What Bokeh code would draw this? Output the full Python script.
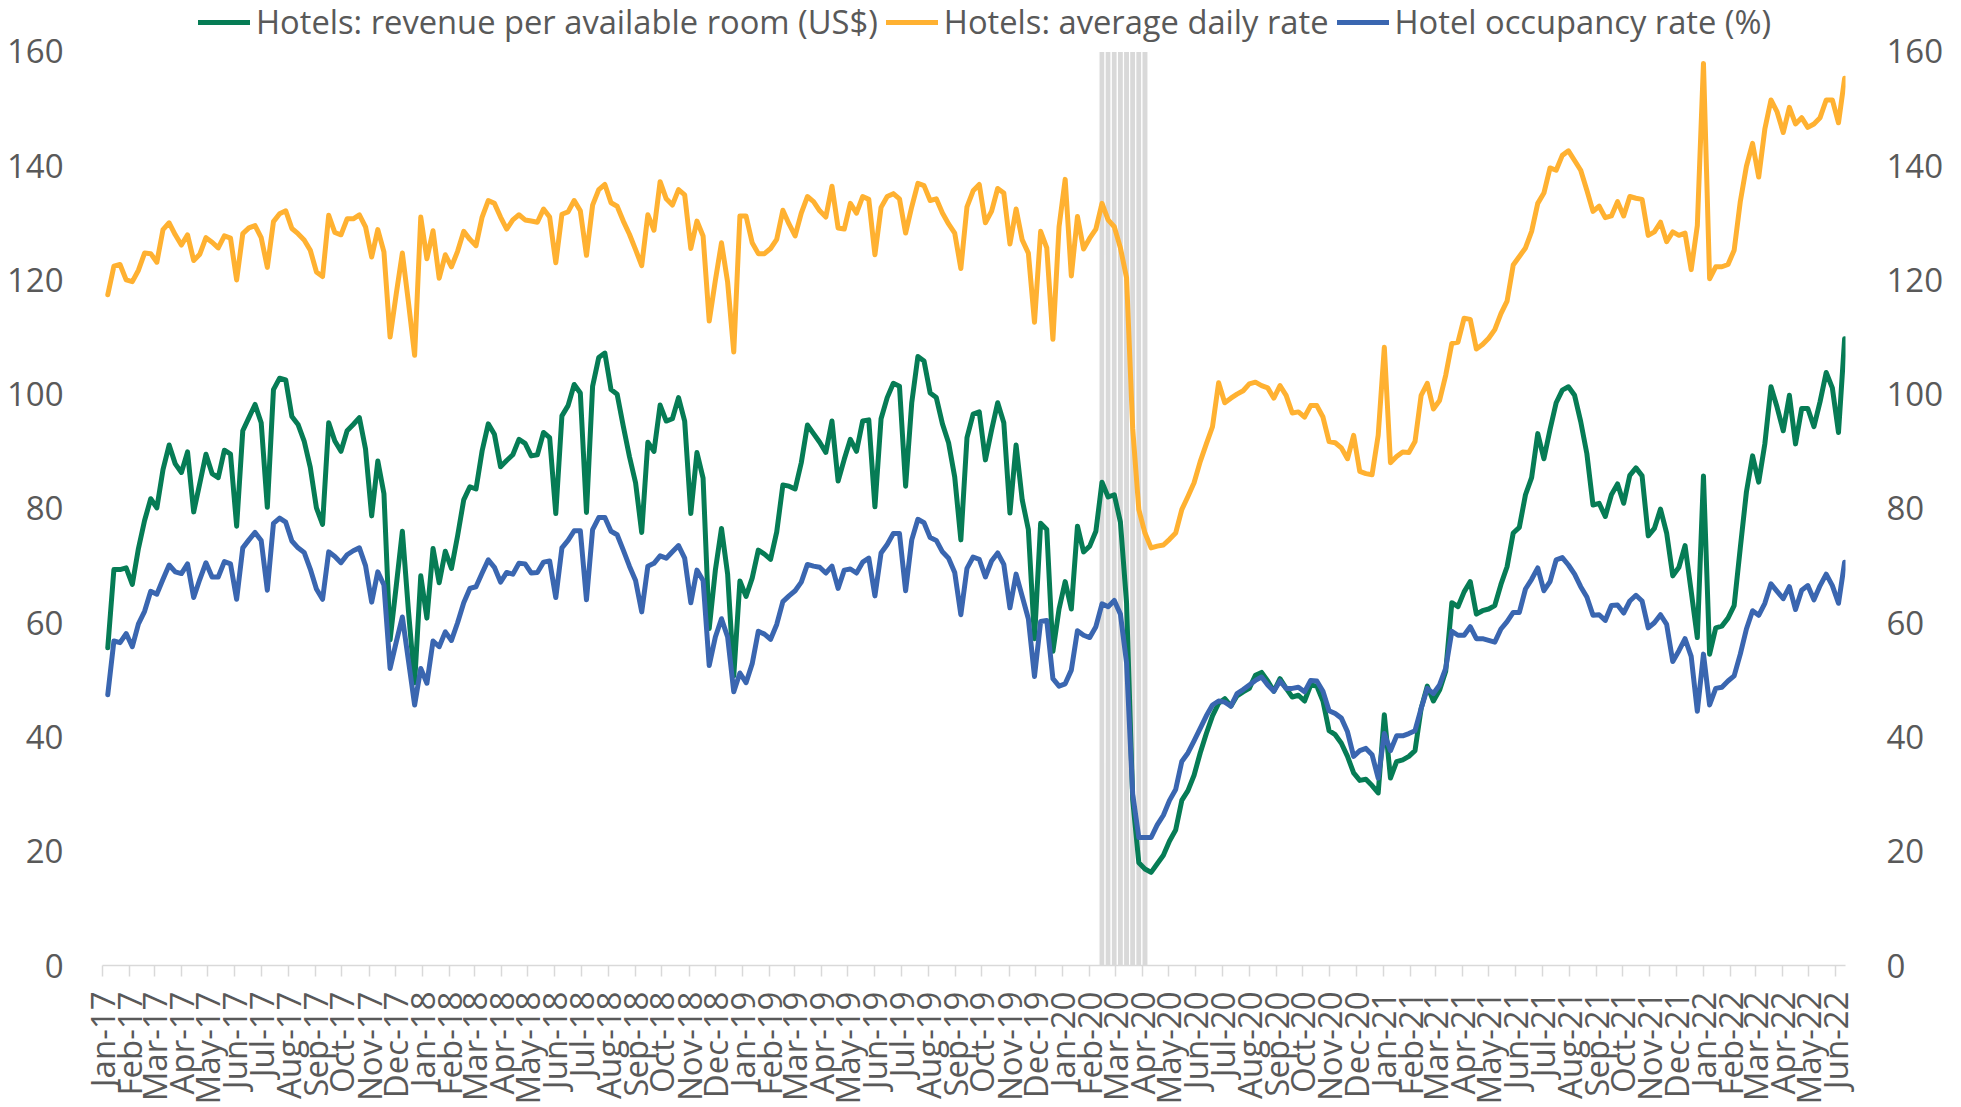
import datetime as dt
from bokeh.plotting import figure
from bokeh.models import (FixedTicker, LinearAxis, Range1d, Legend, LegendItem,
                          ColumnDataSource)
from bokeh.embed import file_html
from bokeh.resources import INLINE

# ---------------- data (weekly) ----------------
axis_start = dt.date(2017, 1, 1)
first_week = dt.date(2017, 1, 7)

adr = [
    117.4, 122.4, 122.7, 120.0, 119.7, 121.7, 124.7, 124.6, 123.1, 128.8,
    130.0, 127.9, 126.1, 127.9, 123.4, 124.5, 127.4, 126.6, 125.6, 127.7,
    127.3, 120.0, 128.1, 129.1, 129.5, 127.4, 122.2, 130.2, 131.6, 132.1,
    129.0, 128.1, 127.0, 125.2, 121.4, 120.6, 131.3, 128.3, 127.9, 130.7,
    130.7, 131.4, 129.3, 124.0, 128.8, 124.9, 110.0, 117.5, 124.7, 116.0,
    106.8, 131.0, 123.7, 128.6, 120.3, 124.4, 122.3, 125.0, 128.5, 127.1,
    126.0, 131.0, 133.9, 133.4, 131.0, 128.9, 130.5, 131.4, 130.5, 130.3,
    130.1, 132.4, 131.0, 123.0, 131.5, 131.9, 133.9, 132.1, 124.3, 133.1,
    135.8, 136.7, 133.5, 132.9, 130.3, 128.0, 125.3, 122.5, 131.4, 128.7,
    137.2, 134.2, 133.1, 135.8, 134.9, 125.5, 130.3, 127.7, 112.8, 119.9,
    126.5, 119.6, 107.4, 131.2, 131.2, 126.5, 124.6, 124.6, 125.5, 127.1,
    132.2, 129.8, 127.7, 131.7, 134.6, 133.7, 132.1, 131.0, 136.4, 129.1,
    128.9, 133.4, 131.7, 134.6, 134.1, 124.4, 132.7, 134.6, 135.1, 134.2,
    128.2, 132.8, 136.9, 136.5, 133.9, 134.2, 131.7, 129.8, 128.2, 122.0,
    132.8, 135.6, 136.7, 130.0, 132.0, 136.0, 135.2, 126.3, 132.4, 127.0,
    124.7, 112.6, 128.5, 125.6, 109.6, 129.3, 137.6, 120.7, 131.1, 125.4,
    127.3, 128.9, 133.4, 130.5, 129.3, 125.6, 120.4, 94.0, 79.8, 75.7,
    73.1, 73.4, 73.6, 74.6, 75.7, 79.8, 82.1, 84.5, 88.2,
    91.3, 94.3, 102.0, 98.5, 99.3, 100.0, 100.6, 101.8, 102.1, 101.5,
    101.1, 99.3, 101.5, 99.8, 96.7, 96.9, 96.0, 98.0, 98.0, 96.0,
    91.7, 91.5, 90.6, 88.7, 92.8, 86.5, 86.1, 85.9, 92.8, 108.2,
    88.0, 89.1, 89.9, 89.8, 91.7, 99.8, 101.9, 97.4, 98.9, 103.3,
    108.9, 109.1, 113.3, 113.1, 107.9, 108.7, 109.8, 111.3, 114.1, 116.3,
    122.6, 124.1, 125.6, 128.5, 133.4, 135.2, 139.6, 139.2, 141.8, 142.6,
    140.9, 139.2, 135.7, 132.0, 132.9, 130.9, 131.2, 133.7, 131.2, 134.6,
    134.3, 134.1, 127.8, 128.4, 130.1, 126.7, 128.4, 127.8, 128.2, 121.8,
    129.5, 157.9, 120.2, 122.3, 122.3, 122.7, 125.2, 133.7, 139.9, 143.9,
    138.0, 146.4, 151.5, 149.4, 145.8, 150.2, 147.3, 148.4, 146.7, 147.3,
    148.4, 151.5, 151.5, 147.5, 155.3,
]

revpar = [
    55.6, 69.3, 69.3, 69.6, 66.7, 73.0, 77.9, 81.7, 80.1, 86.8,
    91.1, 87.8, 86.3, 89.9, 79.4, 84.4, 89.5, 86.1, 85.4, 90.2,
    89.5, 76.9, 93.6, 95.9, 98.2, 95.0, 80.2, 100.8, 102.8, 102.5,
    96.1, 94.7, 91.8, 87.2, 80.1, 77.2, 95.0, 91.8, 90.0, 93.6,
    94.7, 95.9, 90.4, 78.7, 88.3, 82.6, 57.0, 66.4, 76.0, 62.0,
    49.5, 68.2, 60.8, 73.0, 67.0, 72.5, 69.5, 75.2, 81.5, 83.8,
    83.4, 90.1, 94.8, 93.0, 87.3, 88.4, 89.4, 92.1, 91.4, 89.2,
    89.4, 93.3, 92.4, 79.1, 96.2, 98.0, 101.7, 100.2, 79.3, 101.4,
    106.4, 107.2, 100.8, 100.0, 94.4, 89.1, 84.5, 75.8, 91.6, 90.0,
    98.1, 95.3, 95.7, 99.4, 95.3, 79.1, 89.8, 85.3, 59.0, 69.2,
    76.5, 68.5, 50.7, 67.3, 64.6, 67.8, 72.7, 72.0, 71.1, 75.9,
    84.1, 83.9, 83.4, 88.0, 94.6, 93.1, 91.6, 89.8, 95.3, 84.8,
    88.6, 92.1, 90.0, 95.3, 95.5, 80.3, 95.7, 99.4, 101.9, 101.4,
    83.9, 98.5, 106.6, 105.8, 100.2, 99.4, 94.8, 91.5, 85.5, 74.5,
    92.4, 96.5, 96.9, 88.5, 93.7, 98.5, 95.0, 79.2, 91.1, 81.5,
    76.3, 57.2, 77.4, 76.3, 55.0, 62.4, 67.2, 62.4, 76.9, 72.4,
    73.4, 76.0, 84.6, 82.0, 82.4, 77.6, 63.5, 29.0, 18.0, 16.9,
    16.3, 17.8, 19.3, 21.8, 23.7, 28.9, 30.6, 33.3, 37.2,
    40.6, 43.7, 45.9, 46.7, 45.4, 47.2, 47.9, 48.5, 50.8, 51.3,
    49.8, 48.0, 50.2, 48.5, 47.0, 47.3, 46.3, 49.1, 48.9, 46.3,
    41.1, 40.4, 38.9, 36.6, 33.7, 32.4, 32.6, 31.5, 30.2, 43.9,
    32.8, 35.7, 36.0, 36.6, 37.6, 45.0, 48.9, 46.3, 48.2, 51.5,
    63.5, 62.8, 65.4, 67.2, 61.5, 62.1, 62.4, 63.0, 66.7, 69.8,
    75.7, 76.7, 82.4, 85.4, 93.1, 88.7, 93.8, 98.5, 100.7, 101.3,
    99.8, 95.2, 89.6, 80.6, 80.9, 78.6, 82.4, 84.3, 80.9, 85.8,
    87.1, 85.7, 75.2, 76.5, 79.9, 75.7, 68.2, 69.7, 73.5, 65.5,
    57.4, 85.7, 54.5, 59.1, 59.4, 60.8, 63.0, 73.1, 82.9, 89.2,
    84.6, 91.3, 101.3, 97.7, 93.6, 99.8, 91.3, 97.5, 97.5, 94.3,
    98.7, 103.8, 101.1, 93.3, 109.7,
]

occupancy = [
    47.4, 56.8, 56.5, 58.1, 55.8, 59.8, 62.0, 65.5, 65.0, 67.6,
    70.1, 68.9, 68.6, 70.3, 64.4, 67.6, 70.5, 68.0, 68.0, 70.7,
    70.3, 64.1, 73.1, 74.5, 75.8, 74.4, 65.7, 77.4, 78.3, 77.6,
    74.3, 73.1, 72.3, 69.4, 65.9, 64.1, 72.4, 71.6, 70.5, 71.9,
    72.6, 73.1, 70.0, 63.6, 68.9, 66.6, 52.0, 56.6, 61.0, 53.3,
    45.6, 52.0, 49.4, 56.8, 55.8, 58.4, 56.9, 60.0, 63.5, 66.0,
    66.3, 68.7, 71.0, 69.7, 67.1, 68.8, 68.5, 70.4, 70.3, 68.7,
    68.8, 70.6, 70.8, 64.4, 73.1, 74.4, 76.1, 76.1, 64.0, 76.3,
    78.4, 78.4, 76.0, 75.4, 72.7, 69.9, 67.4, 61.9, 69.9, 70.4,
    71.7, 71.3, 72.4, 73.5, 71.3, 63.5, 69.2, 67.4, 52.5, 57.5,
    60.7, 57.5, 47.9, 51.2, 49.5, 52.8, 58.5, 58.0, 57.1, 59.7,
    63.7, 64.7, 65.6, 67.1, 70.2, 69.9, 69.7, 68.7, 69.9, 66.0,
    69.2, 69.4, 68.7, 70.6, 71.3, 64.7, 72.2, 73.7, 75.6, 75.6,
    65.6, 74.5, 78.1, 77.5, 74.9, 74.4, 72.4, 71.3, 68.8, 61.4,
    69.5, 71.5, 71.1, 68.0, 70.8, 72.2, 70.2, 62.6, 68.5, 64.6,
    60.7, 50.6, 60.2, 60.4, 50.2, 48.9, 49.3, 51.7, 58.6, 57.8,
    57.4, 59.3, 63.3, 62.8, 63.9, 61.5, 53.0, 30.0, 22.4, 22.4,
    22.4, 24.6, 26.3, 28.9, 30.8, 35.7, 37.2, 39.3, 41.5,
    43.7, 45.6, 46.3, 46.1, 45.4, 47.6, 48.3, 49.1, 49.9, 50.5,
    49.1, 48.0, 49.8, 48.5, 48.5, 48.7, 47.9, 49.9, 49.8, 48.0,
    44.6, 44.1, 43.3, 40.9, 36.6, 37.6, 38.0, 36.9, 32.8, 40.6,
    37.6, 40.2, 40.2, 40.6, 41.1, 45.0, 48.5, 47.6, 49.1, 52.0,
    58.5, 57.8, 57.8, 59.3, 57.2, 57.2, 56.9, 56.6, 58.9, 60.2,
    61.8, 61.8, 65.9, 67.6, 69.6, 65.6, 67.2, 71.0, 71.4, 70.1,
    68.5, 66.3, 64.5, 61.3, 61.4, 60.4, 63.0, 63.1, 61.7, 63.8,
    64.8, 63.8, 59.1, 60.0, 61.4, 59.7, 53.2, 55.1, 57.2, 54.1,
    44.5, 54.5, 45.6, 48.5, 48.7, 49.8, 50.7, 54.5, 58.9, 62.1,
    61.3, 63.4, 66.8, 65.5, 64.2, 66.3, 62.3, 65.7, 66.5, 64.0,
    66.5, 68.5, 66.5, 63.4, 70.6,
]

series_names = [
    "Hotels: revenue per available room (US$)",
    "Hotels: average daily rate",
    "Hotel occupancy rate (%)",
]
series_colors = ["#067C55", "#FFB131", "#3A66B0"]

month_labels = [
    "Jan-17", "Feb-17", "Mar-17", "Apr-17", "May-17", "Jun-17", "Jul-17", "Aug-17", "Sep-17", "Oct-17", "Nov-17", "Dec-17",
    "Jan-18", "Feb-18", "Mar-18", "Apr-18", "May-18", "Jun-18", "Jul-18", "Aug-18", "Sep-18", "Oct-18", "Nov-18", "Dec-18",
    "Jan-19", "Feb-19", "Mar-19", "Apr-19", "May-19", "Jun-19", "Jul-19", "Aug-19", "Sep-19", "Oct-19", "Nov-19", "Dec-19",
    "Jan-20", "Feb-20", "Mar-20", "Apr-20", "May-20", "Jun-20", "Jul-20", "Aug-20", "Sep-20", "Oct-20", "Nov-20", "Dec-20",
    "Jan-21", "Feb-21", "Mar-21", "Apr-21", "May-21", "Jun-21", "Jul-21", "Aug-21", "Sep-21", "Oct-21", "Nov-21", "Dec-21",
    "Jan-22", "Feb-22", "Mar-22", "Apr-22", "May-22", "Jun-22",
]
y_ticks = [0, 20, 40, 60, 80, 100, 120, 140, 160]
y_max = 160

recession_start = dt.date(2020, 2, 15)
recession_end = dt.date(2020, 4, 4)

assert len(adr) == len(revpar) == len(occupancy), (len(adr), len(revpar), len(occupancy))

# ---------------- derived positions (x in weeks since axis_start) ----------------
n = len(adr)
week_dates = [first_week + dt.timedelta(days=7 * i) for i in range(n)]
week_x = [(d - axis_start).days / 7.0 for d in week_dates]

tick_pos = []
for k, lab in enumerate(month_labels):
    d = dt.date(2017 + k // 12, k % 12 + 1, 1)
    tick_pos.append((d - axis_start).days / 7.0)
overrides = {p_: l_ for p_, l_ in zip(tick_pos, month_labels)}

rec_x = [x for x, d in zip(week_x, week_dates) if recession_start <= d <= recession_end]

src = ColumnDataSource(dict(x=week_x, revpar=revpar, adr=adr, occ=occupancy))

FONT = "Open Sans"
TXT = "#595959"
GRID = "#D9D9D9"

# frame spans the full height above the x axis; the value 160 sits 51 px below the top,
# leaving room for the legend inside the frame area
H, BOTTOM, TOP160 = 1107, 140, 51
frame_h = H - BOTTOM
y_top = y_max * frame_h / (frame_h - TOP160)

p = figure(width=1961, height=H, output_backend="svg", toolbar_location=None,
           x_range=Range1d(0, 284.0), y_range=Range1d(0, y_top),
           min_border_left=102, min_border_right=116, min_border_top=0,
           min_border_bottom=BOTTOM)
p.outline_line_color = None
p.xgrid.grid_line_color = None
p.ygrid.grid_line_color = None
p.background_fill_color = "white"
p.border_fill_color = "white"

# recession shading
p.vbar(x=rec_x, width=1.0, top=y_max, bottom=0, fill_color=GRID,
       line_color="white", line_width=1.2)

lines = []
for col, color in zip(["revpar", "adr", "occ"], series_colors):
    r = p.line("x", col, source=src, line_color=color, line_width=5,
               line_join="round", line_cap="round")
    lines.append(r)

# x axis
xa = p.xaxis[0]
xa.ticker = FixedTicker(ticks=tick_pos)
xa.major_label_overrides = overrides
xa.major_label_orientation = 1.5707963267948966
xa.axis_line_color = GRID
xa.axis_line_width = 1.5
xa.major_tick_line_color = GRID
xa.major_tick_line_width = 1.5
xa.major_tick_out = 11
xa.major_tick_in = 0
xa.minor_tick_line_color = None
xa.major_label_text_font = FONT
xa.major_label_text_font_size = "33px"
xa.major_label_text_color = TXT
xa.major_label_standoff = 15

def style_y(ax, standoff):
    ax.ticker = FixedTicker(ticks=y_ticks)
    ax.axis_line_color = None
    ax.major_tick_line_color = None
    ax.minor_tick_line_color = None
    ax.major_label_text_font = FONT
    ax.major_label_text_font_size = "33px"
    ax.major_label_text_color = TXT
    ax.major_label_standoff = standoff

style_y(p.yaxis[0], 33)
ra = LinearAxis()
style_y(ra, 35)
p.add_layout(ra, "right")

legend = Legend(items=[LegendItem(label=nm, renderers=[r]) for nm, r in zip(series_names, lines)],
                orientation="horizontal", location=(96, frame_h - 46),
                label_text_font=FONT, label_text_font_size="32.7px",
                label_text_color=TXT, glyph_width=52, glyph_height=38,
                label_height=38, label_standoff=6, spacing=8, padding=0, margin=0,
                border_line_color=None, background_fill_alpha=0)
p.add_layout(legend, "center")

open("out.html", "w").write(file_html(p, INLINE))
